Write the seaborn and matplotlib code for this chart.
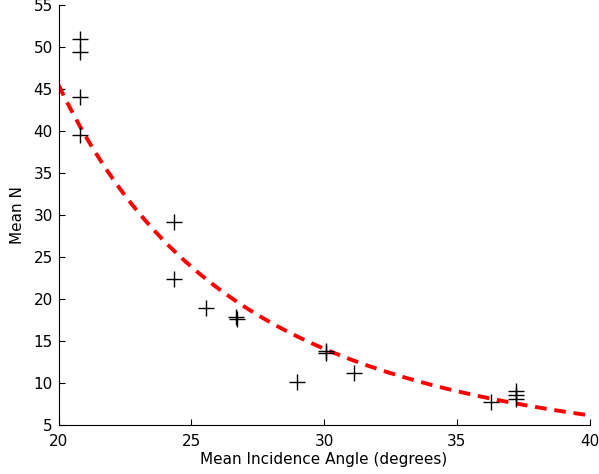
import numpy as np
import pandas as pd
import matplotlib
matplotlib.use("Agg")
import matplotlib.pyplot as plt
import seaborn as sns

# Measured mean N against mean incidence angle
angle = [20.81, 20.81, 20.81, 20.81, 24.35, 24.35, 25.56, 26.69, 26.72,
         28.97, 30.06, 30.09, 31.14, 36.28, 37.23, 37.23, 37.23]
mean_n = [50.95, 49.4, 44.1, 39.5, 29.1, 22.3, 18.9, 17.8, 17.6,
          10.1, 13.8, 13.5, 11.2, 7.7, 9.0, 8.55, 8.1]

# Power-law fit N = a * (angle / 20) ** b
fit_a = 45.5
fit_b = -2.9
fit_range = (20, 40)

x_ticks = [20, 25, 30, 35, 40]
y_ticks = [5, 10, 15, 20, 25, 30, 35, 40, 45, 50, 55]

sns.set_style("white")
plt.rcParams["font.family"] = ["DejaVu Sans"]
plt.rcParams["text.color"] = "black"
plt.rcParams["axes.labelcolor"] = "black"
plt.rcParams["xtick.color"] = "black"
plt.rcParams["ytick.color"] = "black"

fig = plt.figure(figsize=(5.99, 4.74), dpi=100)
ax = fig.add_axes([0.0977, 0.1044, 0.8865, 0.8844])

df = pd.DataFrame({"angle": angle, "mean_n": mean_n})
sns.scatterplot(data=df, x="angle", y="mean_n", marker="+", s=120,
                color="black", linewidth=1.0, ax=ax, zorder=3)

xf = np.linspace(fit_range[0], fit_range[1], 200)
fit_df = pd.DataFrame({"angle": xf, "mean_n": fit_a * (xf / 20.0) ** fit_b})
sns.lineplot(data=fit_df, x="angle", y="mean_n", color="red", linewidth=2.8,
             linestyle=(0, (3, 2.0)), ax=ax, zorder=2)

ax.set_xlim(20, 40)
ax.set_ylim(5, 55)
ax.set_xticks(x_ticks)
ax.set_yticks(y_ticks)
ax.tick_params(direction="in", length=4, width=0.8, labelsize=11,
               bottom=True, left=True, labelcolor="black")
ax.tick_params(axis="x", pad=7)
ax.tick_params(axis="y", pad=4)
for side in ("top", "right"):
    ax.spines[side].set_visible(False)
for side in ("left", "bottom"):
    ax.spines[side].set_color("black")
    ax.spines[side].set_linewidth(0.8)

ax.set_xlabel("Mean Incidence Angle (degrees)", fontsize=11, labelpad=2,
              color="black")
ax.set_ylabel("Mean N", fontsize=11, labelpad=6, color="black")

fig.savefig("out.png", dpi=100)
